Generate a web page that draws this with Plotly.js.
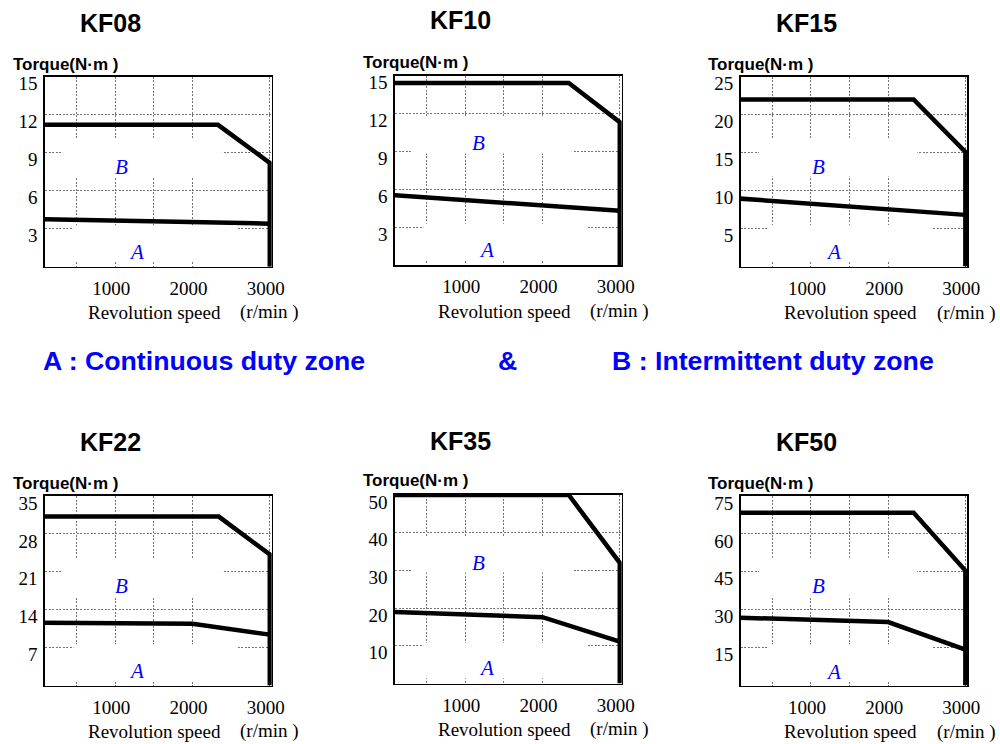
<!DOCTYPE html>
<html>
<head>
<meta charset="utf-8">
<script src="https://cdn.plot.ly/plotly-3.0.1.min.js"></script>
<style>html,body{margin:0;padding:0;background:#fff;}#chart{width:1000px;height:744px;}</style>
</head>
<body>
<div id="chart"></div>
<script>
// ---------------- DATA ----------------
const panelNames = ['KF08', 'KF10', 'KF15', 'KF22', 'KF35', 'KF50'];
const torqueMax = [15, 15, 25, 35, 50, 75];
const yTicksKF08 = [3, 6, 9, 12, 15];
const yTicksKF10 = [3, 6, 9, 12, 15];
const yTicksKF15 = [5, 10, 15, 20, 25];
const yTicksKF22 = [7, 14, 21, 28, 35];
const yTicksKF35 = [10, 20, 30, 40, 50];
const yTicksKF50 = [15, 30, 45, 60, 75];
const xTickVals = [500, 1000, 1500, 2000, 3000];
const xTickText = ['', '1000', '', '2000', '3000'];

// B : intermittent duty zone boundary (speed r/min, torque N·m)
const kf08SpeedB = [0, 2330, 3000, 3000];
const kf08TorqueB = [11.2, 11.2, 8.2, 0];
const kf10SpeedB = [0, 2340, 3000, 3000];
const kf10TorqueB = [14.4, 14.4, 11.3, 0];
const kf15SpeedB = [0, 2330, 3000, 3000];
const kf15TorqueB = [22, 22, 15.1, 0];
const kf22SpeedB = [0, 2340, 3000, 3000];
const kf22TorqueB = [31.2, 31.2, 24.2, 0];
const kf35SpeedB = [0, 2340, 3000, 3000];
const kf35TorqueB = [50, 50, 32, 0];
const kf50SpeedB = [0, 2330, 3000, 3000];
const kf50TorqueB = [68.4, 68.4, 45.5, 0];

// A : continuous duty zone boundary
const kf08SpeedA = [0, 3000];
const kf08TorqueA = [3.75, 3.4];
const kf10SpeedA = [0, 3000];
const kf10TorqueA = [5.55, 4.3];
const kf15SpeedA = [0, 3000];
const kf15TorqueA = [9.0, 6.8];
const kf22SpeedA = [0, 2000, 3000];
const kf22TorqueA = [11.6, 11.4, 9.4];
const kf35SpeedA = [0, 2000, 3000];
const kf35TorqueA = [19.0, 17.6, 11.1];
const kf50SpeedA = [0, 2000, 3000];
const kf50TorqueA = [26.9, 25.1, 14.2];

const yTicksAll = [yTicksKF08, yTicksKF10, yTicksKF15, yTicksKF22, yTicksKF35, yTicksKF50];
const speedB = [kf08SpeedB, kf10SpeedB, kf15SpeedB, kf22SpeedB, kf35SpeedB, kf50SpeedB];
const torqueB = [kf08TorqueB, kf10TorqueB, kf15TorqueB, kf22TorqueB, kf35TorqueB, kf50TorqueB];
const speedA = [kf08SpeedA, kf10SpeedA, kf15SpeedA, kf22SpeedA, kf35SpeedA, kf50SpeedA];
const torqueA = [kf08TorqueA, kf10TorqueA, kf15TorqueA, kf22TorqueA, kf35TorqueA, kf50TorqueA];

// ---------------- LAYOUT (pixels) ----------------
const W = 1000, H = 744;
const px = x => x / W;
const py = y => 1 - y / H;
// plot boxes: [left, right, top, bottom]
const boxes = [
  [45, 271.7, 76.7, 266.7], [395, 621.7, 75.5, 265], [740.7, 967.3, 76.7, 266.5],
  [45, 271.7, 496, 685.5], [395, 621.7, 495, 683.5], [740.7, 967.3, 496, 685.5]
];
const titlePos = [[110, 23], [460, 20], [806, 23], [110, 441.7], [460, 440.8], [806, 441.7]];
const torquePos = [[10.7, 64], [360.7, 62.5], [706.3, 64], [10.7, 483.7], [360.7, 480.8], [706.3, 483.7]];
const revPos = [[85.5, 312], [435.5, 311], [781.5, 312.5], [85.5, 731], [435.5, 729.2], [781.5, 731.5]];
const unitPos = [[238, 312], [588, 311], [934.7, 312.5], [238, 731], [588, 729.2], [934.7, 731.5]];
const labelB = [[0.338, 0.526], [0.368, 0.642], [0.343, 0.526], [0.338, 0.527], [0.368, 0.641], [0.343, 0.527]];
const labelA = [[0.404, 0.079], [0.404, 0.079], [0.409, 0.075], [0.404, 0.078], [0.404, 0.08], [0.409, 0.073]];
const gapUpper = [[0.47, 0.667], [0.589, 0.78], [0.474, 0.675], [0.47, 0.667], [0.589, 0.78], [0.474, 0.675]];

const blue = '#0000ff';
const gridColor = '#666';
const gridDash = '2px,1.5px';

const traces = [];
const layout = {
  width: W, height: H,
  margin: {l: 0, r: 0, t: 0, b: 0},
  paper_bgcolor: '#fff', plot_bgcolor: '#fff',
  showlegend: false,
  annotations: [], shapes: []
};

panelNames.forEach((name, i) => {
  const n = i + 1;
  const xa = 'x' + (n === 1 ? '' : n);
  const ya = 'y' + (n === 1 ? '' : n);
  const xKey = 'xaxis' + (n === 1 ? '' : n);
  const yKey = 'yaxis' + (n === 1 ? '' : n);
  const b = boxes[i];

  traces.push({x: speedA[i], y: torqueA[i], xaxis: xa, yaxis: ya, type: 'scatter', mode: 'lines',
    line: {color: '#000', width: 4.5}, hoverinfo: 'skip', name: name + ' A'});
  traces.push({x: speedB[i], y: torqueB[i], xaxis: xa, yaxis: ya, type: 'scatter', mode: 'lines',
    line: {color: '#000', width: 4.5}, hoverinfo: 'skip', name: name + ' B'});

  layout[xKey] = {
    domain: [px(b[0]), px(b[1])], anchor: ya, range: [90, 3025],
    tickmode: 'array', tickvals: xTickVals, ticktext: xTickText, ticks: '',
    ticklabelshift: -4, ticklabelstandoff: 4,
    tickfont: {family: 'Liberation Serif', size: 19, color: '#000'},
    showgrid: true, gridcolor: gridColor, gridwidth: 0.9, griddash: gridDash,
    showline: true, mirror: true, linecolor: '#000', linewidth: 1.6, zeroline: false,
    fixedrange: true
  };
  layout[yKey] = {
    domain: [py(b[3]), py(b[2])], anchor: xa, range: [0, torqueMax[i]],
    tickmode: 'array', tickvals: yTicksAll[i], ticks: '',
    ticklabelshift: 7, ticklabelstandoff: 2,
    tickfont: {family: 'Liberation Serif', size: 19, color: '#000'},
    showgrid: true, gridcolor: gridColor, gridwidth: 0.9, griddash: gridDash,
    showline: true, mirror: true, linecolor: '#000', linewidth: 1.6, zeroline: false,
    fixedrange: true
  };

  // gaps in the dashed grid (white patches that stay clear of the curves)
  const g = gapUpper[i];
  layout.shapes.push({type: 'rect', xref: xa + ' domain', yref: ya + ' domain', layer: 'above',
    x0: 0.08, x1: 0.78, y0: g[0], y1: g[1], fillcolor: '#fff', line: {width: 0}});
  layout.shapes.push({type: 'rect', xref: xa + ' domain', yref: ya + ' domain', layer: 'above',
    x0: 0.125, x1: 0.845, y0: 0.028, y1: 0.218, fillcolor: '#fff', line: {width: 0}});

  layout.annotations.push({text: name, xref: 'paper', yref: 'paper', x: px(titlePos[i][0]), y: py(titlePos[i][1]),
    xanchor: 'center', yanchor: 'middle', showarrow: false,
    font: {family: 'Liberation Sans', size: 25, color: '#000', weight: 'bold'}});
  layout.annotations.push({text: 'Torque(N·m )', xref: 'paper', yref: 'paper', x: px(torquePos[i][0]), y: py(torquePos[i][1]),
    xanchor: 'left', yanchor: 'middle', showarrow: false,
    font: {family: 'Liberation Sans', size: 17, color: '#000', weight: 'bold'}});
  layout.annotations.push({text: 'Revolution speed', xref: 'paper', yref: 'paper', x: px(revPos[i][0]), y: py(revPos[i][1]),
    xanchor: 'left', yanchor: 'middle', showarrow: false,
    font: {family: 'Liberation Serif', size: 19, color: '#000'}});
  layout.annotations.push({text: '(r/min )', xref: 'paper', yref: 'paper', x: px(unitPos[i][0]), y: py(unitPos[i][1]),
    xanchor: 'left', yanchor: 'middle', showarrow: false,
    font: {family: 'Liberation Serif', size: 19, color: '#000'}});
  layout.annotations.push({text: 'B', xref: xa + ' domain', yref: ya + ' domain', x: labelB[i][0], y: labelB[i][1],
    xanchor: 'center', yanchor: 'middle', showarrow: false,
    font: {family: 'Liberation Serif', size: 21, color: blue, style: 'italic'}});
  layout.annotations.push({text: 'A', xref: xa + ' domain', yref: ya + ' domain', x: labelA[i][0], y: labelA[i][1],
    xanchor: 'center', yanchor: 'middle', showarrow: false,
    font: {family: 'Liberation Serif', size: 21, color: blue, style: 'italic'}});
});

// zone legend line
const legendFont = {family: 'Liberation Sans', size: 26.7, color: blue, weight: 'bold'};
layout.annotations.push({text: 'A : Continuous duty zone', xref: 'paper', yref: 'paper', x: px(41), y: py(361),
  xanchor: 'left', yanchor: 'middle', showarrow: false, font: legendFont});
layout.annotations.push({text: '&', xref: 'paper', yref: 'paper', x: px(496), y: py(361),
  xanchor: 'left', yanchor: 'middle', showarrow: false, font: legendFont});
layout.annotations.push({text: 'B : Intermittent duty zone', xref: 'paper', yref: 'paper', x: px(609.5), y: py(361),
  xanchor: 'left', yanchor: 'middle', showarrow: false, font: legendFont});

Plotly.newPlot('chart', traces, layout, {staticPlot: true, displayModeBar: false});
</script>
</body>
</html>
